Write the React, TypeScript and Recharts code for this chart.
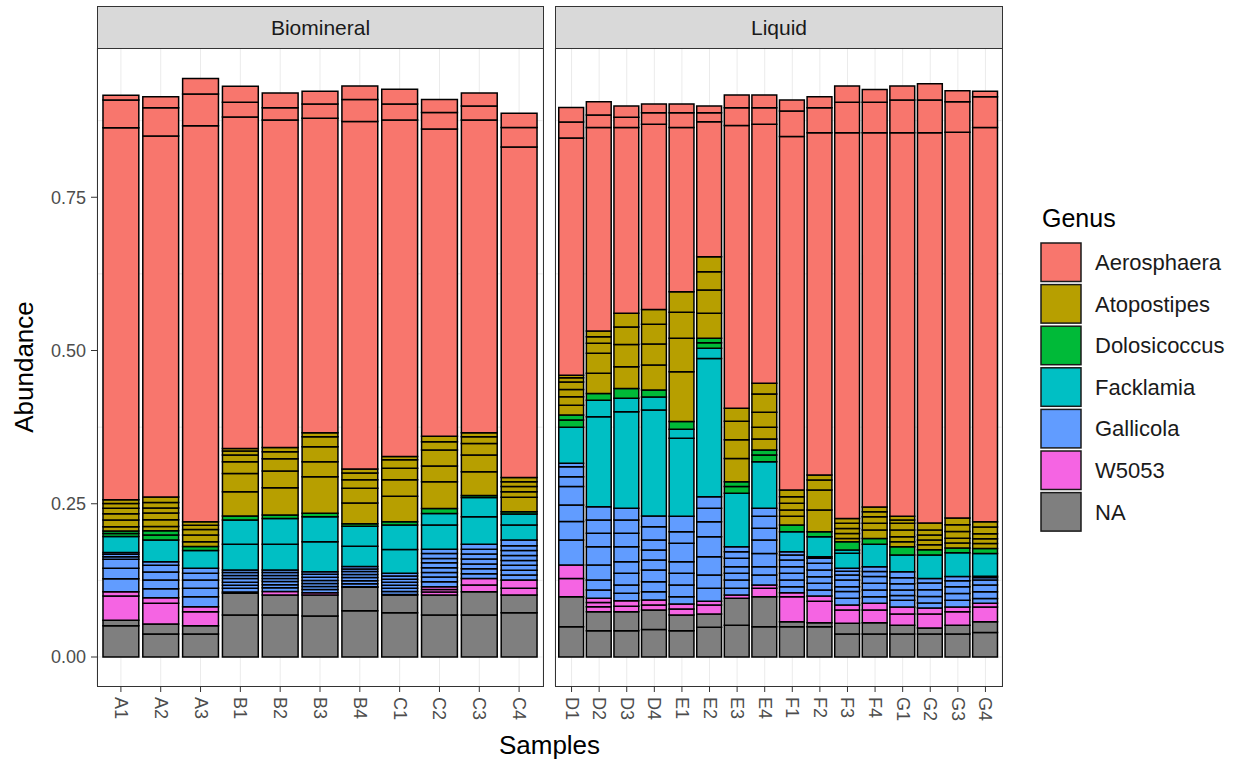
import React from 'react';
import { BarChart, Bar, XAxis, YAxis, CartesianGrid } from 'recharts';

// samples and facets
const samples = ['A1', 'A2', 'A3', 'B1', 'B2', 'B3', 'B4', 'C1', 'C2', 'C3', 'C4',
  'D1', 'D2', 'D3', 'D4', 'E1', 'E2', 'E3', 'E4', 'F1', 'F2', 'F3', 'F4', 'G1', 'G2', 'G3', 'G4'];
const facets = ['Biomineral', 'Liquid'];
const sampleFacet = samples.map(s => ('ABC'.includes(s[0]) ? 'Biomineral' : 'Liquid'));

// OTU abundances per genus (stacked segments, bottom to top), one row per sample
const naSegs = [
  [0.051, 0.009], [0.0375, 0.0165], [0.0375, 0.0135], [0.0685, 0.0355], [0.0685, 0.0325], [0.067, 0.034],
  [0.0756, 0.038], [0.0723, 0.0287], [0.0685, 0.0325], [0.0685, 0.038], [0.0723, 0.0287],
  [0.0495, 0.0489], [0.043, 0.031], [0.043, 0.031], [0.045, 0.0317], [0.043, 0.0255], [0.0484, 0.0217],
  [0.052, 0.0437], [0.0495, 0.0489], [0.0495, 0.0082], [0.0495, 0.0065], [0.0375, 0.0174], [0.0375, 0.0185],
  [0.0375, 0.0145], [0.0375, 0.0098], [0.0375, 0.0145], [0.04, 0.0177],
];
const w5053Segs = [
  [0.0395, 0.0071], [0.0335, 0.009], [0.023, 0.008], [0.002], [0.006], [0.004],
  [0.001], [0.001], [0.005, 0.004, 0.0047], [0.011, 0.0104], [0.011, 0.0136],
  [0.0296, 0.022], [0.008, 0.0068, 0.0069], [0.0089, 0.0087], [0.0081, 0.0082], [0.0098, 0.0082], [0.0147, 0.006],
  [0.0053], [0.0136, 0.0055], [0.0407, 0.0066], [0.0348, 0.0087], [0.0218, 0.0081], [0.0207, 0.0108],
  [0.0181, 0.0114], [0.0228, 0.0098], [0.022, 0.0075], [0.0238, 0.006],
];
const gallicolaSegs = [
  [0.021, 0.017, 0.015, 0.004, 0.004, 0.003],
  [0.015, 0.014, 0.013, 0.011, 0.006],
  [0.0164, 0.0136, 0.0136, 0.011, 0.008],
  [0.006, 0.005, 0.005, 0.006, 0.005, 0.005, 0.004],
  [0.006, 0.005, 0.005, 0.005, 0.005, 0.005, 0.004],
  [0.005, 0.005, 0.005, 0.005, 0.005, 0.005, 0.004],
  [0.005, 0.005, 0.005, 0.005, 0.005, 0.004, 0.004],
  [0.005, 0.005, 0.005, 0.005, 0.005, 0.005, 0.0045],
  [0.008, 0.008, 0.007, 0.008, 0.008, 0.007, 0.008, 0.007],
  [0.008, 0.008, 0.008, 0.008, 0.008, 0.008, 0.008],
  [0.008, 0.008, 0.008, 0.008, 0.008, 0.008, 0.008, 0.0094],
  [0.041, 0.03, 0.027, 0.03, 0.016, 0.0165, 0.0055],
  [0.0136, 0.0163, 0.0244, 0.03, 0.0218, 0.0217, 0.0215],
  [0.0123, 0.0136, 0.019, 0.019, 0.0245, 0.0218, 0.0217, 0.019],
  [0.0136, 0.0163, 0.0191, 0.0162, 0.0164, 0.0164, 0.0216, 0.0174],
  [0.0119, 0.0191, 0.019, 0.019, 0.03, 0.019, 0.025],
  [0.0212, 0.0218, 0.0299, 0.0323, 0.0248, 0.0217, 0.0191],
  [0.011, 0.0136, 0.0109, 0.0109, 0.0136, 0.0108, 0.0082],
  [0.0163, 0.0136, 0.0216, 0.022, 0.019, 0.0195, 0.013],
  [0.0097, 0.0109, 0.0109, 0.0109, 0.0108, 0.0082, 0.0054],
  [0.0098, 0.0109, 0.0108, 0.011, 0.0108, 0.0082, 0.0027],
  [0.011, 0.011, 0.008, 0.011, 0.008, 0.006, 0.005],
  [0.011, 0.011, 0.011, 0.011, 0.008, 0.0079],
  [0.011, 0.008, 0.009, 0.01, 0.0098, 0.0097],
  [0.008, 0.011, 0.011, 0.011, 0.0071],
  [0.011, 0.011, 0.011, 0.0098, 0.0072],
  [0.008, 0.011, 0.011, 0.008, 0.004],
];
const facklamiaSegs = [
  [0.026], [0.0355], [0.029], [0.042, 0.0395], [0.042, 0.042], [0.049, 0.041],
  [0.033, 0.0326], [0.039, 0.04], [0.0396, 0.019], [0.045, 0.0315], [0.0243, 0.018],
  [0.0587], [0.147, 0.027], [0.1575, 0.022], [0.173, 0.021], [0.1272, 0.0147], [0.2254, 0.0166],
  [0.087], [0.0761], [0.0327], [0.0323], [0.0243, 0.0054], [0.0366],
  [0.0275], [0.0385], [0.0384], [0.0022, 0.0373],
];
const dolosicoccusSegs = [
  [0.005, 0.004], [0.008, 0.007], [0.0065], [0.0065], [0.0055], [0.0054],
  [0.004], [0.005], [0.008], [0.003], [0.0038],
  [0.012, 0.008], [0.011], [0.016], [0.0116], [0.0126], [0.009, 0.0074],
  [0.011, 0.008], [0.0109, 0.0082], [0.0108], [0.0085], [0.0135], [0.0095],
  [0.0135], [0.0085], [0.008], [0.008],
];
const atopostipesSegs = [
  [0.007, 0.011, 0.01, 0.009, 0.008, 0.006],
  [0.007, 0.011, 0.011, 0.008, 0.009, 0.009],
  [0.008, 0.011, 0.009, 0.007, 0.0055],
  [0.0395, 0.03, 0.019, 0.011, 0.0065, 0.004],
  [0.0447, 0.0272, 0.02, 0.0115, 0.007],
  [0.0596, 0.0246, 0.0244, 0.0164, 0.0066],
  [0.034, 0.0243, 0.0137, 0.011, 0.0064],
  [0.0416, 0.027, 0.019, 0.0136, 0.0054],
  [0.0435, 0.0256, 0.0261, 0.0136, 0.0092],
  [0.0388, 0.0272, 0.0191, 0.0108, 0.0066],
  [0.0234, 0.0092, 0.0083, 0.008, 0.007],
  [0.016, 0.0137, 0.012, 0.0123, 0.0067, 0.0043],
  [0.0328, 0.0326, 0.0163, 0.0108, 0.0095],
  [0.0356, 0.0364, 0.0285, 0.0222],
  [0.0407, 0.0342, 0.0325, 0.024],
  [0.0815, 0.0545, 0.0423, 0.0337],
  [0.0407, 0.038, 0.0299, 0.0244],
  [0.0377, 0.0308, 0.03, 0.0212],
  [0.0179, 0.0191, 0.0245, 0.03, 0.0172],
  [0.0142, 0.0105, 0.0107, 0.0109, 0.0108],
  [0.0355, 0.0324, 0.0163, 0.0083],
  [0.0054, 0.0082, 0.0082, 0.0082, 0.008],
  [0.0136, 0.0109, 0.011, 0.008, 0.0078],
  [0.008, 0.008, 0.011, 0.011, 0.0055, 0.006],
  [0.008, 0.008, 0.008, 0.008, 0.0116],
  [0.008, 0.008, 0.011, 0.011, 0.011],
  [0.008, 0.008, 0.008, 0.011, 0.0088],
];
const aerosphaeraSegs = [
  [0.607, 0.045, 0.008], [0.589, 0.046, 0.018], [0.646, 0.052, 0.025], [0.541, 0.024, 0.026],
  [0.534, 0.02, 0.024], [0.513, 0.023, 0.021], [0.567, 0.036, 0.022], [0.549, 0.026, 0.024],
  [0.501, 0.027, 0.021], [0.51, 0.023, 0.021], [0.539, 0.032, 0.023],
  [0.387, 0.026, 0.0236], [0.332, 0.02, 0.022], [0.303, 0.017, 0.018], [0.302, 0.019, 0.014],
  [0.268, 0.024, 0.014], [0.22, 0.015, 0.011], [0.4613, 0.029, 0.021], [0.4226, 0.027, 0.021],
  [0.5766, 0.0417, 0.0179], [0.5583, 0.0407, 0.018], [0.6293, 0.0497, 0.0265], [0.6105, 0.0497, 0.021],
  [0.6258, 0.0533, 0.0229], [0.6367, 0.0533, 0.0264], [0.6293, 0.0497, 0.018], [0.6432, 0.05, 0.009],
];

// stacked bottom -> top
const genera = [
  { key: 'na', name: 'NA', color: '#7F7F7F', segs: naSegs },
  { key: 'w5053', name: 'W5053', color: '#F564E3', segs: w5053Segs },
  { key: 'gal', name: 'Gallicola', color: '#619CFF', segs: gallicolaSegs },
  { key: 'fac', name: 'Facklamia', color: '#00BFC4', segs: facklamiaSegs },
  { key: 'dol', name: 'Dolosicoccus', color: '#00BA38', segs: dolosicoccusSegs },
  { key: 'ato', name: 'Atopostipes', color: '#B79F00', segs: atopostipesSegs },
  { key: 'aer', name: 'Aerosphaera', color: '#F8766D', segs: aerosphaeraSegs },
];
const legendOrder = ['Aerosphaera', 'Atopostipes', 'Dolosicoccus', 'Facklamia', 'Gallicola', 'W5053', 'NA'];

const yTicks = [0, 0.25, 0.5, 0.75];
const yMinor = [0.125, 0.375, 0.625, 0.875];
const Y_MIN = -0.0473;
const Y_MAX = 0.9935;

const FONT = '"Liberation Sans", Arial, sans-serif';

const slots = genera.map(g => Math.max(...g.segs.map(s => s.length)));

const rows = samples.map((s, i) => {
  const row: any = { sample: s };
  genera.forEach((g, gi) => {
    for (let k = 0; k < slots[gi]; k++) row[`${g.key}${k}`] = g.segs[i][k] ?? 0;
  });
  return row;
});

const PANEL_TOP = 48;
const PANEL_BOTTOM = 686;
const panels = [
  { facet: 'Biomineral', left: 97, right: 543 },
  { facet: 'Liquid', left: 555, right: 1002 },
];

const XTick = ({ x, y, payload }: any) => (
  <text
    x={x}
    y={y}
    transform={`rotate(90, ${x}, ${y})`}
    textAnchor="start"
    dominantBaseline="central"
    fontSize={18}
    fill="#4D4D4D"
    fontFamily={FONT}
  >
    {payload.value}
  </text>
);

function Panel({ facet, left, right, showY }: { facet: string; left: number; right: number; showY: boolean }) {
  const data = rows.filter((_, i) => sampleFacet[i] === facet);
  const n = data.length;
  const pw = right - left;
  const unit = pw / (n + 0.2);
  const chartLeft = showY ? 0 : left - 15;
  const yAxisW = showY ? left : 0;
  const width = showY ? right + 17 : right - chartLeft + 18;
  return (
    <div style={{ position: 'absolute', left: chartLeft, top: 0 }}>
      <BarChart
        width={width}
        height={761}
        data={data}
        barSize={unit * 0.9}
        margin={{ top: PANEL_TOP, right: width - (right - chartLeft), bottom: 761 - PANEL_BOTTOM - 40, left: showY ? 0 : left - chartLeft }}
      >
        <CartesianGrid
          stroke="#EBEBEB"
          strokeWidth={1}
          horizontalValues={[...yTicks, ...yMinor]}
        />
        <XAxis
          dataKey="sample"
          interval={0}
          height={40}
          padding={{ left: unit * 0.1, right: unit * 0.1 }}
          axisLine={false}
          tickLine={{ stroke: '#333333' }}
          tickSize={6}
          tickMargin={5}
          tick={<XTick />}
        />
        <YAxis
          hide={!showY}
          width={yAxisW}
          type="number"
          domain={[Y_MIN, Y_MAX]}
          allowDataOverflow
          ticks={yTicks}
          tickFormatter={(v: number) => v.toFixed(2)}
          axisLine={false}
          tickLine={{ stroke: '#333333' }}
          tickSize={6}
          tickMargin={5}
          tick={{ fill: '#4D4D4D', fontSize: 18, fontFamily: FONT }}
        />
        {genera.flatMap((g, gi) =>
          Array.from({ length: slots[gi] }, (_, k) => (
            <Bar
              key={`${g.key}${k}`}
              dataKey={`${g.key}${k}`}
              stackId="a"
              fill={g.color}
              stroke="#000000"
              strokeWidth={1.5}
              isAnimationActive={false}
            />
          ))
        )}
      </BarChart>
    </div>
  );
}

export default function App() {
  return (
    <div style={{ position: 'absolute', left: 0, top: 0, width: 1236, height: 761, background: '#fff', fontFamily: FONT }}>
      {panels.map((p, i) => (
        <Panel key={p.facet} facet={p.facet} left={p.left} right={p.right} showY={i === 0} />
      ))}
      {panels.map(p => (
        <React.Fragment key={`frame-${p.facet}`}>
          <div
            style={{
              position: 'absolute', left: p.left, top: 6, width: p.right - p.left + 1, height: PANEL_TOP - 6 + 1,
              boxSizing: 'border-box', background: '#D9D9D9', border: '1px solid #333333',
              display: 'flex', alignItems: 'center', justifyContent: 'center',
              fontSize: 21, color: '#1A1A1A',
            }}
          >
            {facets[facets.indexOf(p.facet)]}
          </div>
          <div
            style={{
              position: 'absolute', left: p.left, top: PANEL_TOP, width: p.right - p.left + 1,
              height: PANEL_BOTTOM - PANEL_TOP + 1, boxSizing: 'border-box', border: '1px solid #333333',
              pointerEvents: 'none',
            }}
          />
        </React.Fragment>
      ))}
      <svg width={1236} height={761} style={{ position: 'absolute', left: 0, top: 0, pointerEvents: 'none' }}>
        <text x={549.5} y={754} textAnchor="middle" fontSize={26} fill="#000" fontFamily={FONT}>Samples</text>
        <text
          x={24}
          y={367}
          transform="rotate(-90, 24, 367)"
          textAnchor="middle"
          dominantBaseline="central"
          fontSize={26}
          fill="#000"
          fontFamily={FONT}
        >
          Abundance
        </text>
        <text x={1042} y={227} fontSize={25} fill="#000" fontFamily={FONT}>Genus</text>
        {legendOrder.map((name, i) => {
          const g = genera.find(gg => gg.name === name)!;
          const top = 243 + i * 41.6;
          return (
            <g key={name}>
              <rect x={1041} y={top} width={40} height={38.5} fill={g.color} stroke="#1A1A1A" strokeWidth={1.5} />
              <text x={1095} y={top + 19.5} dominantBaseline="central" fontSize={22} fill="#1A1A1A" fontFamily={FONT}>
                {name}
              </text>
            </g>
          );
        })}
      </svg>
    </div>
  );
}
